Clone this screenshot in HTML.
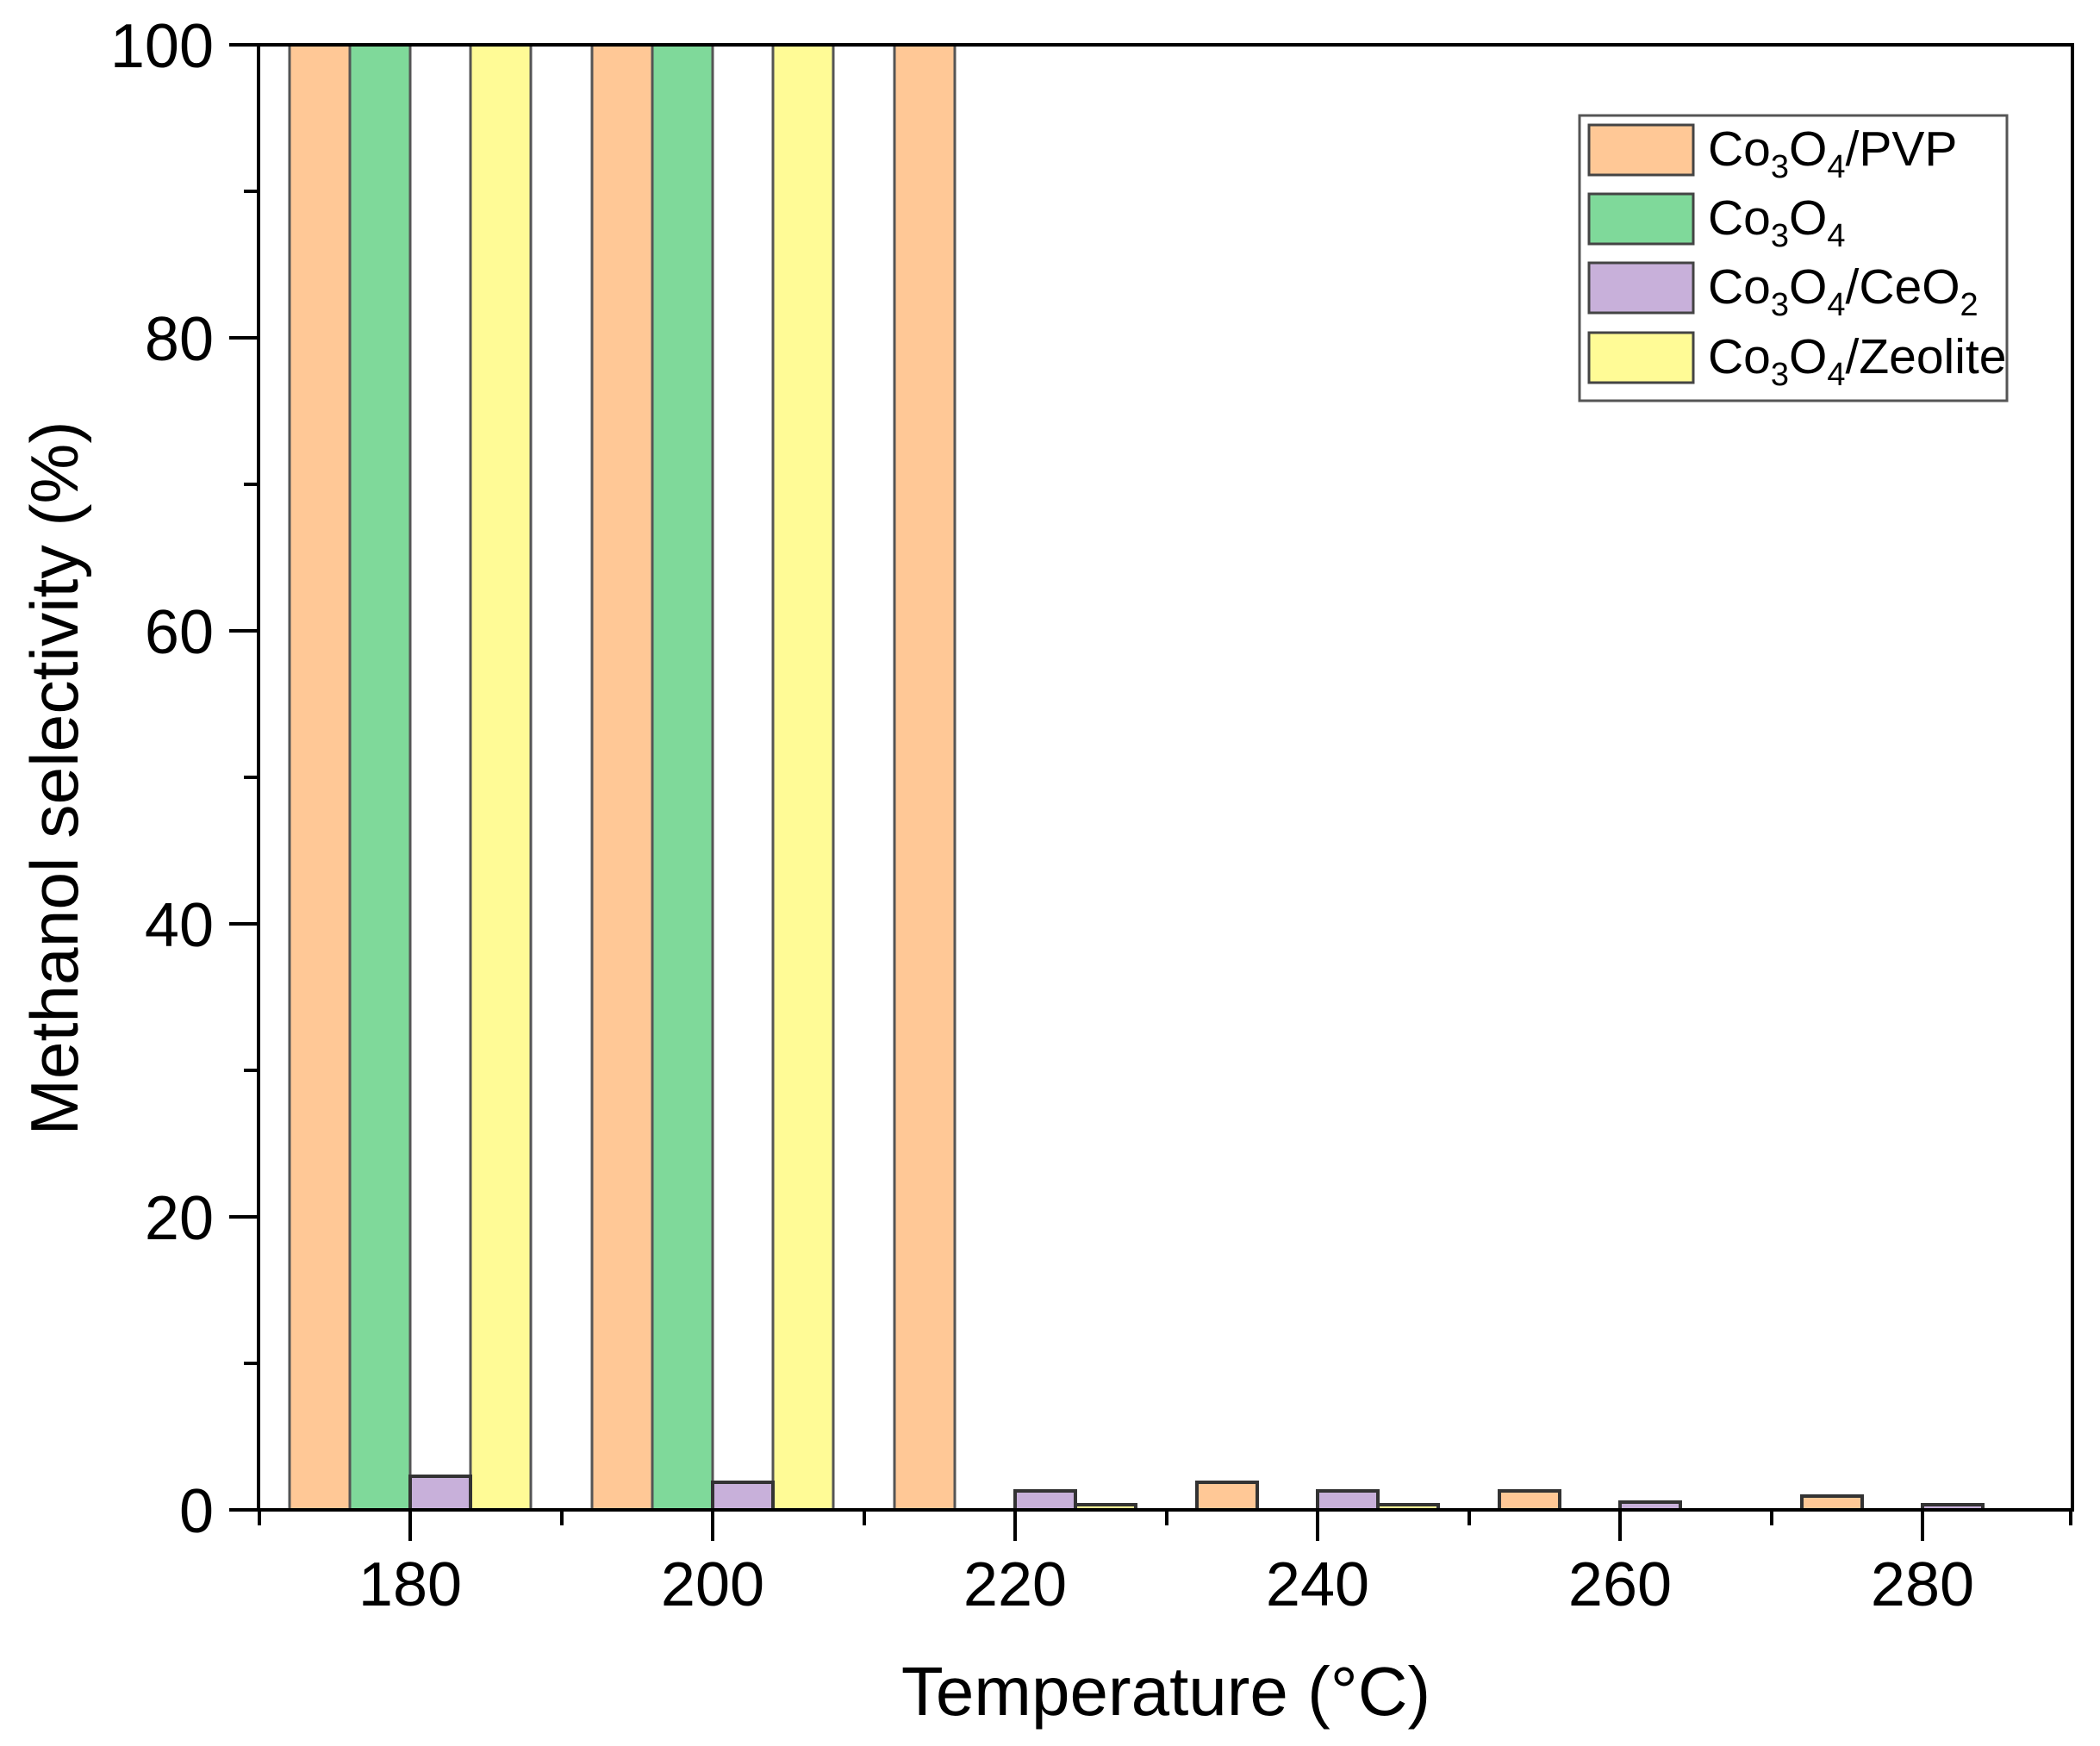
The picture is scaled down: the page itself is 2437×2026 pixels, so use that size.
<!DOCTYPE html>
<html><head><meta charset="utf-8"><style>
html,body{margin:0;padding:0;background:#fff}
svg{display:block}
text{font-family:"Liberation Sans",Arial,sans-serif;fill:#000}
</style></head><body>
<svg width="2437" height="2026" viewBox="0 0 2437 2026" xmlns="http://www.w3.org/2000/svg">
<g stroke="#555" stroke-width="3">
<rect x="336" y="52" width="70" height="1700" fill="#FFC896"/>
<rect x="406" y="52" width="70" height="1700" fill="#7FD99A"/>
<rect x="546" y="52" width="70" height="1700" fill="#FFFB96"/>
<rect x="687" y="52" width="70" height="1700" fill="#FFC896"/>
<rect x="757" y="52" width="70" height="1700" fill="#7FD99A"/>
<rect x="897" y="52" width="70" height="1700" fill="#FFFB96"/>
<rect x="1038" y="52" width="70" height="1700" fill="#FFC896"/>
</g>
<g stroke="#333" stroke-width="4">
<rect x="476" y="1713" width="70" height="39" fill="#C8B0DA"/>
<rect x="827" y="1720" width="70" height="32" fill="#C8B0DA"/>
<rect x="1178" y="1730" width="70" height="22" fill="#C8B0DA"/>
<rect x="1248" y="1746" width="70" height="6" fill="#FFFB96"/>
<rect x="1389" y="1720" width="70" height="32" fill="#FFC896"/>
<rect x="1529" y="1730" width="70" height="22" fill="#C8B0DA"/>
<rect x="1599" y="1746" width="70" height="6" fill="#FFFB96"/>
<rect x="1740" y="1730" width="70" height="22" fill="#FFC896"/>
<rect x="1880" y="1743" width="70" height="9" fill="#C8B0DA"/>
<rect x="2091" y="1736" width="70" height="16" fill="#FFC896"/>
<rect x="2231" y="1746" width="70" height="6" fill="#C8B0DA"/>
</g>
<rect x="300" y="52" width="2105" height="1700" fill="none" stroke="#000" stroke-width="4"/>
<g stroke="#000" stroke-width="4">
<line x1="266" y1="52" x2="300" y2="52"/><line x1="266" y1="392" x2="300" y2="392"/>
<line x1="266" y1="732" x2="300" y2="732"/><line x1="266" y1="1072" x2="300" y2="1072"/>
<line x1="266" y1="1412" x2="300" y2="1412"/><line x1="266" y1="1752" x2="300" y2="1752"/>
<line x1="283" y1="222" x2="300" y2="222"/><line x1="283" y1="562" x2="300" y2="562"/>
<line x1="283" y1="902" x2="300" y2="902"/><line x1="283" y1="1242" x2="300" y2="1242"/>
<line x1="283" y1="1582" x2="300" y2="1582"/>
<line x1="476" y1="1752" x2="476" y2="1788"/><line x1="827" y1="1752" x2="827" y2="1788"/>
<line x1="1178" y1="1752" x2="1178" y2="1788"/><line x1="1529" y1="1752" x2="1529" y2="1788"/>
<line x1="1880" y1="1752" x2="1880" y2="1788"/><line x1="2231" y1="1752" x2="2231" y2="1788"/>
<line x1="301" y1="1752" x2="301" y2="1770"/><line x1="652" y1="1752" x2="652" y2="1770"/>
<line x1="1003" y1="1752" x2="1003" y2="1770"/><line x1="1354" y1="1752" x2="1354" y2="1770"/>
<line x1="1705" y1="1752" x2="1705" y2="1770"/><line x1="2056" y1="1752" x2="2056" y2="1770"/>
<line x1="2403" y1="1752" x2="2403" y2="1770"/>
</g>
<g font-size="72" text-anchor="end">
<text x="248" y="78">100</text><text x="248" y="418">80</text><text x="248" y="758">60</text>
<text x="248" y="1098">40</text><text x="248" y="1438">20</text><text x="248" y="1778">0</text>
</g>
<g font-size="72" text-anchor="middle">
<text x="476" y="1863">180</text><text x="827" y="1863">200</text><text x="1178" y="1863">220</text>
<text x="1529" y="1863">240</text><text x="1880" y="1863">260</text><text x="2231" y="1863">280</text>
</g>
<text x="1353" y="1990" font-size="80" text-anchor="middle">Temperature (°C)</text>
<text transform="translate(90,903) rotate(-90)" font-size="78" text-anchor="middle" textLength="829" lengthAdjust="spacingAndGlyphs">Methanol selectivity (%)</text>
<rect x="1833" y="134" width="496" height="331" fill="#fff" stroke="#555" stroke-width="3"/>
<g stroke="#444" stroke-width="3">
<rect x="1844" y="145" width="121" height="58" fill="#FFC896"/>
<rect x="1844" y="225" width="121" height="58" fill="#7FD99A"/>
<rect x="1844" y="305" width="121" height="58" fill="#C8B0DA"/>
<rect x="1844" y="386" width="121" height="58" fill="#FFFB96"/>
</g>
<g font-size="57">
<text x="1982" y="192">Co<tspan font-size="38" dy="14">3</tspan><tspan dy="-14">O</tspan><tspan font-size="38" dy="14">4</tspan><tspan dy="-14">/PVP</tspan></text>
<text x="1982" y="272">Co<tspan font-size="38" dy="14">3</tspan><tspan dy="-14">O</tspan><tspan font-size="38" dy="14">4</tspan></text>
<text x="1982" y="352">Co<tspan font-size="38" dy="14">3</tspan><tspan dy="-14">O</tspan><tspan font-size="38" dy="14">4</tspan><tspan dy="-14">/CeO</tspan><tspan font-size="38" dy="14">2</tspan></text>
<text x="1982" y="433">Co<tspan font-size="38" dy="14">3</tspan><tspan dy="-14">O</tspan><tspan font-size="38" dy="14">4</tspan><tspan dy="-14">/Zeolite</tspan></text>
</g>
</svg>
</body></html>
